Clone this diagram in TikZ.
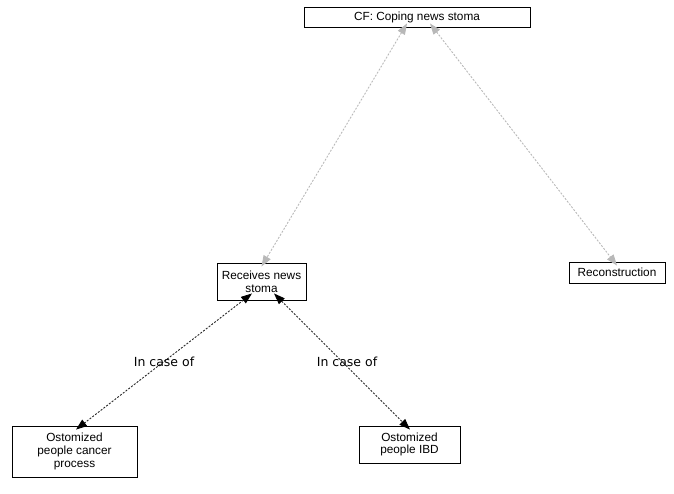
\documentclass[tikz,border=0pt]{standalone}
\usepackage{fontspec}
\setmainfont{Liberation Sans}
\newfontfamily\labelfont{DejaVu Sans}
\usetikzlibrary{arrows.meta}
\colorlet{arrgray}{black!28}
\begin{document}
\begin{tikzpicture}[x=1pt,y=-1pt,
  box/.style={draw=black, line width=0.9pt, align=center, inner sep=0pt, font=\fontsize{11.8}{12.8}\selectfont},
  grayarr/.style={{Triangle[length=11pt,width=8pt,color=arrgray,fill=arrgray]}-{Triangle[length=11pt,width=8pt,color=arrgray,fill=arrgray]}, draw=arrgray, line width=0.9pt, dash pattern=on 2pt off 1.5pt},
  blackarr/.style={{Triangle[length=11pt,width=8pt,color=black,fill=black]}-{Triangle[length=11pt,width=8pt,color=black,fill=black]}, draw=black!85, line width=0.9pt, dash pattern=on 2pt off 1.5pt},
  lbl/.style={font=\labelfont\fontsize{12.5}{14}\selectfont, inner sep=1pt}]
\useasboundingbox (0,0) rectangle (674,493);
\node[box, minimum width=226pt, minimum height=20pt] (cf) at (417,17) {CF: Coping news stoma};
\node[box, minimum width=89pt, minimum height=37pt] (rns) at (261.5,281.5) {Receives news\\stoma};
\node[box, minimum width=96pt, minimum height=21pt] (rec) at (617,272.5) {Reconstruction};
\node[box, minimum width=125pt, minimum height=51pt] (opc) at (74.5,451.5) {Ostomized\\people cancer\\process};
\node[box, minimum width=101pt, minimum height=37pt] (opi) at (409.5,444.5) {Ostomized\\people IBD};
\draw[grayarr] ([xshift=-10pt,yshift=4pt]cf.south) -- ([yshift=-4pt]rns.north);
\draw[grayarr] ([xshift=13pt,yshift=4pt]cf.south) -- ([yshift=-4pt]rec.north);
\draw[blackarr] ([xshift=-9.5pt,yshift=7pt]rns.south) -- node[lbl, pos=0.5] {In case of} ([xshift=1.5pt,yshift=-4pt]opc.north);
\draw[blackarr] ([xshift=12.5pt,yshift=7pt]rns.south) -- node[lbl, pos=0.5, xshift=5pt] {In case of} ([xshift=0.5pt,yshift=-4pt]opi.north);
\end{tikzpicture}
\end{document}
